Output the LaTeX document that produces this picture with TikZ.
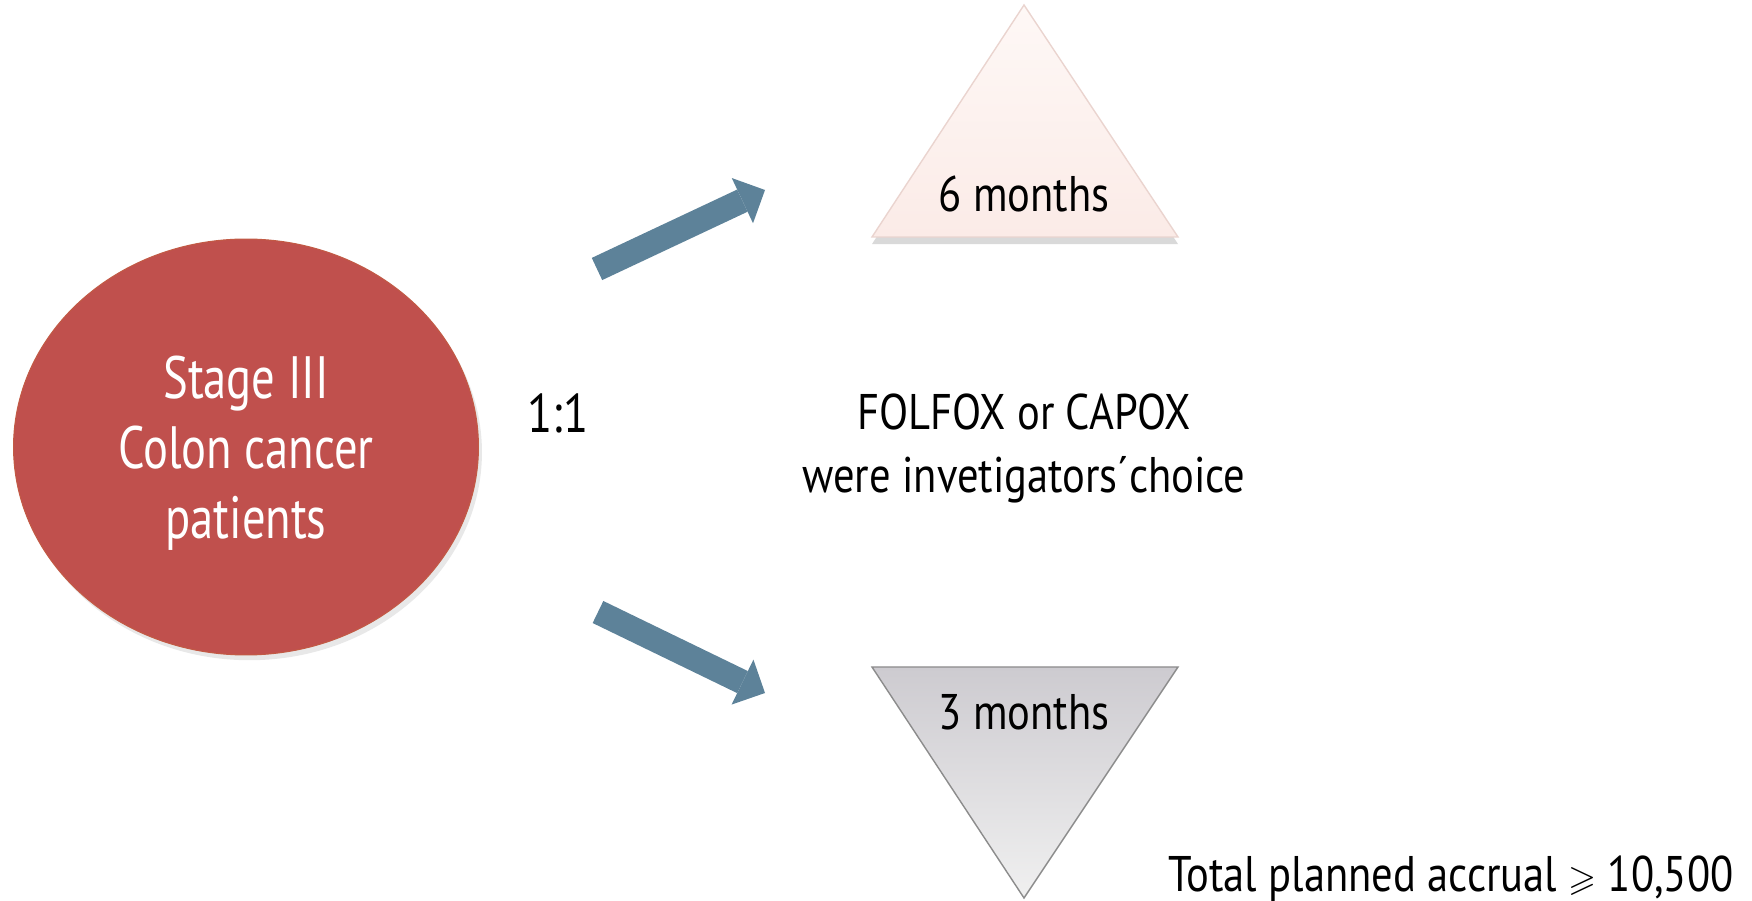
\documentclass[tikz,border=0pt]{standalone}
\usepackage{fontspec}
\setmainfont{PT Sans}[FakeStretch=0.85]
\newfontfamily\narrowsans{PT Sans}[FakeStretch=0.78]
\usepackage{amssymb}
\usepackage{graphicx}
\usepackage{xcolor}
\definecolor{Brick}{HTML}{C0504D}
\definecolor{BrickEdge}{HTML}{C25A45}
\definecolor{Slate}{HTML}{5D8299}
\definecolor{PinkTop}{HTML}{FEF8F6}
\definecolor{PinkBot}{HTML}{FBEBE7}
\definecolor{PinkEdge}{HTML}{EAD4CF}
\definecolor{GrayTop}{HTML}{CDCBD0}
\definecolor{GrayBot}{HTML}{F0F0F0}
\definecolor{GrayEdge}{HTML}{8C8C8C}
\usepackage{tikz}
\usetikzlibrary{arrows.meta, shapes.geometric, shadows}
\tikzset{
  cohort/.style={
    ellipse, fill=Brick, draw=BrickEdge, line width=0.6pt,
    minimum width=9.3cm, minimum height=8.32cm,
    text=white, align=center, text depth=0pt,
    font=\narrowsans\fontsize{34}{39.8}\selectfont,
    drop shadow={shadow xshift=2pt, shadow yshift=-3pt, opacity=0.18}
  },
  arm/.style={line width=0.49cm, color=Slate,
    -{Triangle[length=0.5cm, width=1cm, line width=0pt]}},
  longTri/.style={top color=PinkTop, bottom color=PinkBot, draw=PinkEdge,
    line width=0.8pt,
    drop shadow={shadow xshift=0pt, shadow yshift=-4pt, opacity=0.3}},
  shortTri/.style={top color=GrayTop, bottom color=GrayBot, draw=GrayEdge,
    line width=0.8pt},
  lbl/.style={inner sep=0pt, font=\fontsize{#1}{#1}\selectfont},
  lbl/.default=28.5
}

\begin{document}
\begin{tikzpicture}[x=0.02cm, y=-0.02cm]
\useasboundingbox (0,0) rectangle (1752,901);

% population
\node[cohort] at (246,447) (pat) {Stage III\\Colon cancer\\patients};

% arms
\path[longTri] (1024,5) -- (1178,237) -- (872,237) -- cycle;
\path[shortTri] (872,667) -- (1178,667) -- (1024,898) -- cycle;
\node[lbl, anchor=base] at (1024,212) (six) {6 months};
\node[lbl, anchor=base] at (1024,730) (three) {3 months};

% randomisation arrows
\coordinate (upTail) at (597,269);
\coordinate (upTip) at (765,190);
\coordinate (dnTail) at (598,612);
\coordinate (dnTip) at (765,693);
\draw[arm] (upTail) -- (upTip);
\draw[arm] (dnTail) -- (dnTip);

\node[lbl=31, anchor=base] at (558,433) (ratio) {1:1};
\node[lbl, align=center, anchor=base,
  font=\fontsize{28.5}{35.9}\selectfont] at (1024,493) (regimen)
  {FOLFOX or CAPOX\\were invetigators´choice};

\node[lbl, anchor=base west] at (1168,891) (accrual)
  {Total planned accrual \raisebox{0.5pt}{\scalebox{0.72}{$\geqslant$}} 10,500};

\end{tikzpicture}
\end{document}
